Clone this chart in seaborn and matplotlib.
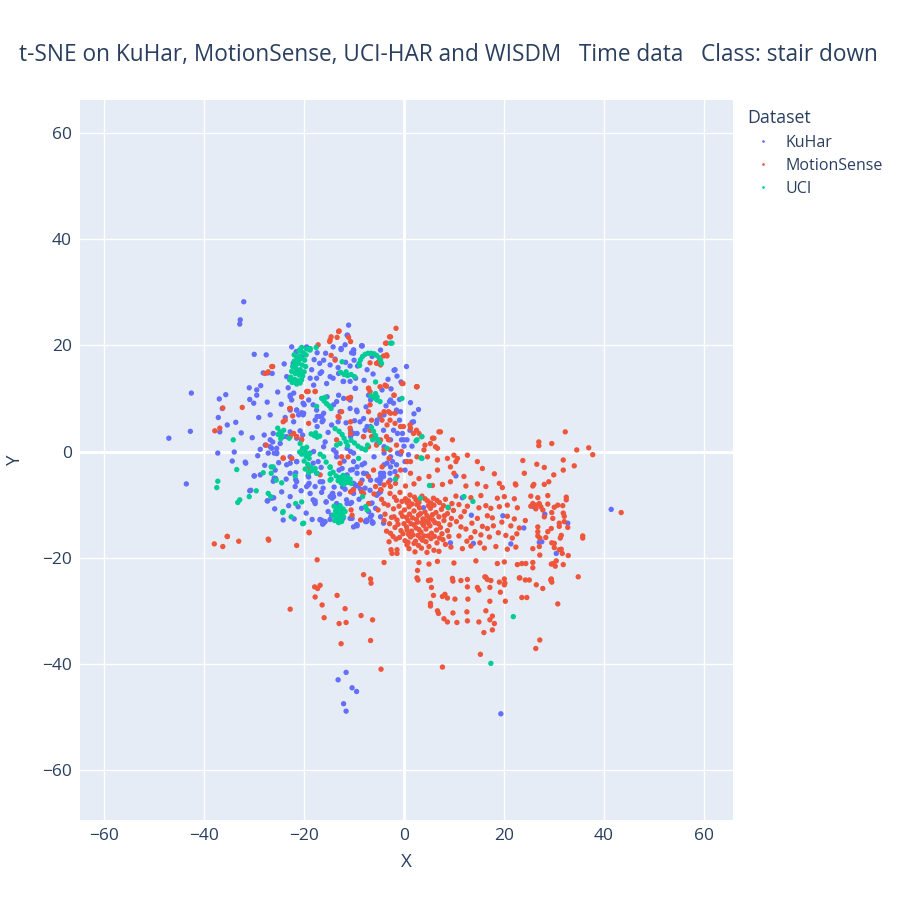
import pandas as pd
import matplotlib
matplotlib.use('Agg')
import matplotlib.pyplot as plt
import seaborn as sns

# t-SNE coordinates, one list per dataset
kuhar_pts = [
    (-47.1, 2.5), (-42.6, 11.0), (-42.8, 3.8), (-43.6, -6.1), (-32.1, 28.2), (-32.8, 24.8), (-32.9, 24.0),
    (-37.3, -0.3), (-30.0, 18.3), (-27.6, 18.2), (-28.2, 14.8), (-27.2, 14.8), (-26.4, 14.7),
    (-31.0, 12.0), (-29.5, 11.6), (-28.7, 12.4), (-29.5, 10.6), (-37.0, 9.9), (-35.7, 10.7), (-36.4, 8.1),
    (-30.9, 9.8), (-30.1, 9.1), (-37.2, 6.4), (-35.4, 5.0), (-33.7, 5.5), (-36.9, 3.7), (-34.4, -1.8),
    (-31.8, -2.0), (-34.0, -0.1), (-28.8, 0.4), (-27.8, 1.2), (-26.8, 0.9), (-26.3, 1.8), (-25.5, 0.6),
    (-27.2, -0.3), (-26.0, -0.3), (-25.5, -0.2), (-28.0, 3.1), (-24.2, 2.8), (-22.8, 3.7), (-21.5, 2.8),
    (-20.3, 3.1), (-20.8, 3.9), (-22.1, 5.6), (-20.5, 7.3), (-28.8, -4.4), (-30.0, -4.6), (-26.0, -5.0),
    (-26.2, -5.6), (-21.5, -5.7), (-21.7, -5.3), (-19.1, -4.8), (-16.3, -5.7), (-14.0, -6.7), (-14.3, -7.9),
    (-12.3, -6.7), (-11.8, -7.1), (-9.5, -6.4), (-10.2, -7.2), (-5.4, -5.4), (-4.7, -4.8), (-30.9, -7.4),
    (-27.4, -9.3), (-26.5, -8.8), (-17.8, -9.3), (-15.6, -9.5), (-14.4, -8.8), (-14.1, -8.5), (-12.4, -3.2),
    (-13.0, -3.5), (-10.3, -3.4), (-9.4, -2.9), (-8.4, -5.4), (-7.5, -4.2), (-6.7, -5.4), (-4.7, -5.3),
    (-16.4, -13.0), (-14.8, -12.8), (-16.1, -13.5), (-10.4, -12.6), (-9.4, -14.0), (-10.1, -14.2),
    (-7.4, -12.9), (-6.4, -13.2), (-4.1, -13.5), (-4.7, -12.3),
    (-20.8, 19.2), (-19.5, 19.7), (-20.4, 17.9), (-17.4, 18.6), (-16.1, 17.2), (-14.2, 19.7), (-12.6, 19.2),
    (-11.1, 23.8), (-11.3, 21.9), (-11.8, 20.1), (-10.1, 19.1), (-8.4, 19.9), (-6.4, 17.9), (-4.7, 19.1),
    (-2.0, 15.3), (-1.4, 14.2), (-10.0, 17.2), (-10.8, 16.1),
    (-18.5, 15.4), (-16.5, 15.0), (-18.8, 13.8), (-17.5, 13.8), (-18.1, 12.5), (-14.8, 14.1), (-13.1, 14.7),
    (-12.1, 13.2), (-10.8, 13.2), (-9.7, 13.8), (-9.7, 11.9), (-13.1, 10.6), (-12.1, 10.0), (-15.4, 10.3),
    (-14.1, 8.8), (-19.1, 9.7), (-22.1, 11.0), (-22.8, 10.3), (-20.0, 8.8), (-21.5, 7.8), (-21.1, 6.9),
    (-20.1, 7.2), (-17.4, 6.6), (-16.8, 6.6), (-16.1, 7.2), (-16.4, 5.6), (-17.4, 4.7), (-12.8, 7.5),
    (-9.4, 7.5), (-7.1, 10.6), (-6.7, 9.7), (-4.4, 11.6), (-2.7, 9.7), (-1.5, 7.5), (-4.0, 6.9), (-5.4, 5.9),
    (-4.8, 6.6), (-8.1, 6.2), (-7.4, 4.7), (-6.7, 4.7), (-10.1, 3.4), (-10.7, 2.8), (-8.1, 2.8), (-5.4, 1.5),
    (-4.0, 0.9), (-2.7, 2.2), (-1.3, 3.4), (0.0, 2.2), (-11.4, 0.6), (-10.7, 0.0), (-10.1, -0.3),
    (-13.5, -1.0), (-14.1, 0.3), (-16.1, 0.9), (-18.1, 0.0), (-18.8, -0.3), (-10.1, -1.9), (-10.7, -3.5),
    (-9.4, -4.1), (-4.0, -0.3), (-2.7, -1.0), (-4.0, -2.5), (-1.3, -0.3), (-4.7, -4.1),
    (-8.4, 19.9), (-10.1, 19.1), (-10.1, 18.5), (1.3, 9.2), (2.0, 7.1), (1.6, 5.5), (-0.7, 7.5),
    (-2.1, 4.0), (0.6, 2.2), (0.0, 1.0), (-0.7, -0.5), (-2.7, -2.9), (-4.1, -4.7), (-4.7, -5.1),
    (-5.4, -8.2), (-6.7, -9.8), (-6.2, -13.4), (-7.6, -13.0), (-9.4, -13.8), (-8.1, -4.1), (-8.4, -2.5),
    (-9.4, 3.4), (-10.7, 4.0),
    (-11.4, 21.9), (-8.5, 19.9), (-10.5, 18.6), (-12.6, 19.4), (-13.8, 17.4), (-14.8, 16.3), (-16.8, 14.7),
    (-14.2, 13.8), (-15.5, 12.8), (-12.2, 13.2), (-9.8, 11.9), (-10.8, 9.7), (-13.5, 9.4), (-18.2, 8.8),
    (-20.2, 9.1), (-22.5, 9.7), (-22.8, 7.8), (-20.2, 6.9), (-17.5, 7.8), (-16.5, 6.6), (-16.2, 5.9),
    (-17.8, 5.9), (-14.5, 5.0), (-13.2, 5.6), (-10.8, 8.1), (-9.5, 7.8), (-8.8, 5.6), (-7.8, 4.0),
    (-5.5, 5.3), (-6.1, 2.8), (-4.1, 4.0), (-2.1, 9.1), (-1.5, 7.8), (-2.9, 9.4), (-1.8, 15.4), (0.5, 16.0),
    (1.9, 5.6), (1.2, 4.0), (-0.5, 2.2), (-0.3, 3.4), (-1.1, -0.4), (-2.3, -1.9), (-1.5, -2.5), (0.2, -3.5),
    (-2.8, -4.1), (-4.8, -6.0), (-5.1, -7.9), (-6.8, -7.3), (-7.8, -6.9), (-9.8, -6.3), (-10.1, -7.9),
    (-11.5, -9.1), (-13.5, -9.8), (-14.5, -8.2), (-16.2, -6.9), (-16.8, -5.7), (-17.8, -6.6), (-19.5, -6.6),
    (-18.8, -7.9), (-18.2, -9.1), (-17.8, -9.8), (-15.2, -11.3), (-16.8, -12.9), (-15.8, -13.2),
    (-12.2, -12.6), (-10.8, -9.8), (-8.5, -10.7), (-6.5, -12.0), (-7.5, -13.2), (-21.5, 7.8), (-26.8, 2.2),
    (-26.2, 3.4), (-24.8, 1.5), (-23.5, 2.8), (-21.5, 2.5), (-26.5, 0.6), (-25.5, -0.4), (-22.8, -1.0),
    (-21.5, -1.9), (-23.5, -2.5), (-25.8, -3.5), (-22.8, -4.1), (-21.8, -6.6), (-22.8, -8.5), (-24.5, -7.6),
    (-21.2, -10.4), (-24.2, -12.9), (-22.8, 10.6), (-23.5, 14.1), (-22.2, 16.6), (-20.8, 19.1), (-19.2, 19.4),
    (-22.5, 19.7), (-14.5, -12.0), (-14.8, -8.5), (-17.5, -4.1), (-18.2, -2.2), (-17.2, -1.9),
    (-30.0, -4.6), (-30.7, -7.3), (-31.7, -2.2), (-27.3, -9.3), (-26.1, -8.7), (-25.7, -5.1), (-22.8, -2.2),
    (-21.7, -4.0), (-22.0, -12.7), (-19.2, -6.3), (-16.5, -7.7), (-17.9, -9.5), (-15.6, -9.5), (-14.3, -7.9),
    (-16.8, -12.8), (-16.3, -13.7), (-13.2, -13.2), (-12.5, -12.6), (-10.8, -12.6), (-9.5, -13.8),
    (-10.5, -9.6), (-11.4, -9.8), (-7.1, -11.3), (-6.7, -12.3), (-6.3, -13.5), (-5.7, -10.7), (-7.7, -13.2),
    (-5.5, -8.2), (-4.7, -7.6), (-2.8, -5.4), (-4.1, -4.1), (0.2, -1.9), (-9.2, -6.5), (-8.7, -7.1),
    (-10.1, -6.0), (-11.4, -4.4), (-10.8, -5.7), (-19.2, -4.6), (-19.0, -6.0), (-21.5, -1.9),
    (-23.8, 6.4), (-24.6, 8.9), (-25.3, 11.2), (-23.2, 12.0), (-24.0, 16.5), (-21.6, 18.8), (-18.0, 17.3),
    (-15.7, 18.5), (-16.9, 16.6), (-13.2, 15.8), (-11.7, 16.8), (-9.3, 16.1), (-7.4, 15.4), (-8.0, 13.4),
    (-6.2, 14.6), (-3.2, 13.6), (-0.6, 13.1), (-2.6, 11.8), (-0.9, 9.8), (-3.6, 8.6), (-7.6, 8.4),
    (-11.6, 5.4), (-9.9, 5.8), (-15.2, 3.6), (-15.8, 1.8), (-13.6, -0.2), (-12.0, -1.8), (-16.6, -3.0),
    (-20.6, -7.4), (-23.6, -5.2), (-25.1, -2.1), (-27.9, -2.6), (-29.3, -0.8), (-30.4, 2.6), (-32.6, 3.5),
    (-29.1, 6.4), (-26.8, 6.9), (-27.4, 9.3), (-25.9, -10.8), (-23.1, -10.2), (-19.6, -11.6), (-18.4, -12.8),
    (-12.9, -8.0), (-9.0, -9.0), (-7.9, -2.2), (-6.0, -1.0), (-3.4, -2.2), (-1.8, -3.8), (0.9, -0.6),
    (1.6, 1.0), (-0.9, 5.9), (2.9, 7.9),
    (10.4, -4.6), (13.5, -12.0), (19.8, -12.1), (24.0, -14.4), (27.6, -17.0), (30.5, -19.2), (9.3, -17.2),
    (13.9, -17.3), (21.4, -17.4), (11.7, -8.7), (32.8, -13.5), (3.9, -10.6), (-6.4, -9.7), (27.1, -17.1),
    (28.2, -11.8), (26.0, -10.4), (41.5, -10.9),
    (19.4, -49.4), (-11.6, -41.6), (-13.2, -43.0), (-10.4, -44.5), (-9.5, -45.2), (-12.1, -47.5),
    (-11.6, -48.9),
]

motionsense_pts = [
    (43.5, -11.5), (37.8, -0.6), (37.0, 0.7), (34.6, 0.3), (32.3, 3.7), (29.6, 1.5), (27.0, 1.8), (27.0, 1.1),
    (34.1, -2.7), (31.9, -1.6), (30.0, -4.4), (29.0, -5.7), (31.9, -3.5), (28.1, -3.0), (26.6, -2.4),
    (26.0, -6.2), (24.1, -4.1), (23.8, -1.7), (22.3, -6.1),
    (-38.0, -17.4), (-36.3, -17.9), (-35.4, -16.0), (-33.1, -16.9), (-27.1, -16.7), (-21.5, -17.7),
    (-19.0, -15.3), (-17.4, -20.4), (-17.9, -25.5), (-16.8, -25.2), (-17.3, -25.8), (-17.8, -27.4),
    (-16.4, -28.9), (-16.0, -31.3), (-22.8, -29.7), (-13.4, -27.1), (-11.8, -29.6), (-13.0, -32.4),
    (-11.6, -32.2), (-12.6, -36.2), (-8.6, -30.9), (-6.3, -31.7), (-6.7, -35.6), (-8.1, -23.2), (-6.6, -24.8),
    (-4.6, -41.0), (-4.0, -20.9), (-2.6, -18.5), (-1.4, -19.2), (-1.6, -16.5), (0.8, -17.1),
    (7.7, -40.6), (15.3, -38.2), (26.4, -37.1), (27.2, -35.5),
    (2.7, -22.4), (2.8, -24.2), (5.3, -28.6), (5.3, -29.1), (5.9, -27.1), (6.7, -30.0), (6.9, -30.5),
    (4.9, -24.3), (5.5, -25.6), (7.7, -27.3), (8.2, -26.9), (8.7, -27.6), (8.0, -31.5), (8.7, -32.1),
    (9.8, -30.4), (10.2, -27.8), (10.6, -32.2), (9.8, -24.4), (11.4, -24.3), (12.7, -25.5), (12.8, -27.8),
    (12.6, -30.2), (12.7, -31.9), (15.0, -32.1), (14.7, -25.6), (15.0, -26.1), (17.2, -28.2), (16.4, -30.0),
    (17.2, -31.7), (17.7, -31.0), (18.1, -32.4), (16.0, -34.1), (17.7, -33.6), (16.2, -23.6), (16.7, -24.1),
    (17.2, -25.6), (19.1, -24.6), (20.1, -25.1), (20.2, -24.8), (19.3, -26.5), (20.3, -28.2), (23.2, -23.8),
    (24.3, -24.2), (23.6, -27.5), (24.6, -27.5), (25.8, -21.9), (26.5, -25.1), (27.8, -25.8), (29.4, -24.2),
    (29.6, -24.6), (30.8, -28.7), (34.9, -23.6), (29.9, -21.1), (30.3, -21.6), (31.9, -21.3), (30.1, -17.3),
    (31.5, -18.4), (31.7, -19.2), (32.9, -19.6), (35.8, -15.9), (35.8, -16.3), (31.3, -16.3), (29.6, -17.2),
    (28.8, -15.1), (26.8, -15.1), (27.2, -16.3), (27.2, -19.5), (23.6, -21.1), (24.4, -21.1),
    (25.8, -9.8), (26.4, -10.1), (27.1, -9.8), (27.8, -11.0), (28.8, -9.9), (29.6, -11.5), (30.8, -10.1),
    (31.9, -11.6), (32.5, -9.1), (31.1, -13.5), (32.1, -13.2),
    (-13.0, 22.7), (-13.4, 21.5), (-14.8, 21.0), (-11.1, 21.5), (-10.7, 20.7), (-17.2, 20.1), (-14.6, 18.1),
    (-13.8, 17.2), (-2.7, 21.6), (-1.6, 23.2), (-3.7, 20.4), (-3.4, 18.0), (-4.7, 16.3), (-26.3, 16.0),
    (-27.8, 14.7), (-27.2, 15.0), (-36.3, 8.2), (-32.4, 8.3), (-37.9, 3.9), (-36.9, 4.4), (-22.9, 8.1),
    (-22.3, 6.7), (-20.5, 10.3), (-19.5, 11.3), (-17.8, 11.3), (-21.5, 2.8), (-20.5, 2.3), (-27.6, 1.2),
    (-24.2, 5.6), (-23.8, 5.9), (-10.7, 10.2), (-13.0, 6.4), (-10.7, 5.6), (-7.1, 11.9), (-3.5, 12.3),
    (-2.0, 10.6), (-0.2, 12.8), (2.6, 12.2), (7.3, 3.7), (6.0, 2.5), (5.3, 1.5), (6.7, 0.6), (0.6, -1.9),
    (-10.7, 3.4), (-13.5, 2.2), (-16.8, -4.4), (-19.1, 5.3), (-22.8, 2.8), (-22.1, 3.4), (-19.1, -3.0),
    (-24.2, -1.2), (-22.5, -1.3), (-8.7, -6.0), (-10.7, -7.6), (-8.1, -7.9), (-8.7, -12.9), (-10.6, -11.0),
    (-10.4, -12.0), (-7.1, -9.8), (-19.0, -15.2), (-35.4, -16.0), (-27.2, -16.5),
    (-2.0, 10.6), (-4.0, 7.5), (-2.7, 7.2), (-4.4, 5.9), (-3.4, 5.0), (-0.7, 4.7), (1.3, 4.4), (3.0, 3.4),
    (5.7, 2.5), (7.0, 3.7), (9.7, 2.2), (6.3, 0.9), (4.0, 0.3), (2.6, -1.0), (1.3, -1.9), (4.7, -1.0),
    (6.7, -1.6), (8.7, -1.3), (10.0, -0.7), (10.7, -1.3), (12.7, -0.7), (9.3, -2.9), (10.4, -1.9), (6.7, -3.5),
    (5.0, -4.7), (3.0, -5.1), (1.3, -4.1), (-0.7, -3.5), (-1.4, -4.7), (10.0, -4.1), (9.3, -5.7), (12.0, -4.7),
    (14.7, -1.9), (15.7, -3.2), (18.1, -4.2), (-0.4, 12.8), (2.6, 12.2),
    (-4.7, 2.2), (-6.7, 4.0), (-8.1, 2.8), (-7.1, 0.9), (-4.0, 0.3), (-3.0, -1.3), (-4.4, -2.9), (-6.1, -3.5),
    (-7.1, -4.7), (-5.7, -6.6), (-8.7, -6.0), (-10.1, -7.2), (-4.7, -7.2), (-2.7, -6.6), (-4.0, -9.8),
    (-2.0, -12.3), (-2.7, -15.4), (0.6, -14.8), (2.0, -17.3), (-1.4, -18.5), (-2.4, -19.2),
    (-13.1, 22.6), (-14.6, 21.6), (-14.9, 20.7), (-2.9, 21.6), (-3.5, 20.4), (-4.1, 18.0), (-3.5, 18.2),
    (-6.8, 16.7), (-5.5, 16.6), (-5.1, 16.9), (-7.1, 11.9), (-6.8, 11.3), (-4.8, 12.2), (-3.8, 12.5),
    (2.5, 12.2), (-11.2, 10.0), (-13.2, 6.6), (-12.5, 7.5), (-10.8, 4.4), (-19.2, 11.3), (-17.8, 11.3),
    (-22.8, 8.1), (-26.5, 16.0), (-20.5, 10.3), (-6.8, 8.8), (-7.1, 7.5), (-6.5, 5.9), (-4.8, 6.9),
    (-3.1, 7.5), (-1.8, 7.2), (-2.8, 5.9), (-1.8, 5.3), (-6.8, 4.0), (-6.5, 2.8), (-5.5, 1.2), (-3.5, 2.8),
    (-3.1, 2.2), (-2.8, 0.3), (-1.5, 1.2), (-0.5, 0.0), (-0.1, 4.7), (1.2, 5.0), (1.9, 3.4), (2.5, 4.0),
    (3.5, 2.8), (4.2, 1.2), (-24.2, -1.3), (-22.5, -1.3), (-20.5, 2.2), (-11.2, -1.0), (-12.8, -2.2),
    (-12.5, -1.0), (-8.5, -7.6),
    # dense core
    (-2.8, -7.9), (-1.9, -8.6), (-0.8, -7.7), (0.3, -8.9), (1.2, -8.2), (2.4, -9.1), (3.6, -8.4), (4.7, -9.3),
    (5.9, -8.8), (7.1, -9.6), (8.3, -9.0), (9.6, -9.8), (-3.2, -10.1), (-2.1, -10.8), (-1.0, -10.3),
    (0.1, -11.0), (1.0, -10.4), (2.0, -11.2), (3.1, -10.6), (4.2, -11.4), (5.3, -10.7), (6.4, -11.5),
    (7.5, -10.9), (8.7, -11.7), (9.9, -11.1), (-2.5, -12.4), (-1.4, -12.9), (-0.3, -12.2), (0.8, -13.0),
    (1.7, -12.5), (2.7, -13.3), (3.8, -12.7), (4.9, -13.5), (5.8, -12.9), (6.9, -13.6), (8.0, -13.0),
    (9.2, -13.8), (-1.8, -14.3), (-0.6, -14.9), (0.5, -14.2), (1.5, -15.0), (2.4, -14.4), (3.4, -15.2),
    (4.4, -14.6), (5.5, -15.4), (6.5, -14.8), (7.6, -15.5), (8.7, -14.9), (-0.9, -16.2), (0.2, -16.8),
    (1.3, -16.1), (2.3, -16.9), (3.3, -16.3), (4.4, -17.0), (5.4, -16.4), (6.6, -17.2), (7.8, -16.6),
    (1.0, -18.3), (2.2, -18.9), (3.5, -18.2), (4.6, -19.0), (6.0, -18.6), (0.6, -9.6), (1.6, -9.9),
    (2.9, -12.0), (3.9, -13.9), (4.6, -12.1), (5.2, -14.0), (2.0, -13.8), (3.0, -14.7), (4.0, -15.9),
    (1.1, -11.8), (6.0, -10.1), (7.0, -12.3), (2.6, -10.0), (3.3, -11.7), (4.9, -10.2), (5.7, -11.9),
    (1.8, -15.7), (3.7, -16.7), (0.0, -13.6), (-0.4, -9.4), (-4.5, -9.0), (-5.2, -11.0), (-4.0, -13.0),
    (-3.5, -15.0), (-3.0, -17.0), (-6.0, -8.0),
    (-1.5, -9.2), (0.9, -9.3), (2.1, -8.6), (3.0, -9.6), (4.2, -8.9), (5.4, -9.7), (6.6, -9.2), (7.9, -10.2),
    (8.9, -10.6), (-0.6, -11.6), (0.5, -12.4), (1.4, -13.6), (2.5, -12.8), (3.6, -13.4), (4.3, -13.1),
    (5.1, -12.6), (6.2, -13.4), (7.3, -14.3), (8.1, -12.1), (9.5, -12.6), (-1.2, -13.7), (-0.2, -15.5),
    (0.9, -15.6), (2.8, -15.8), (4.8, -15.9), (6.1, -16.0), (7.1, -16.3), (8.3, -17.5), (0.6, -17.6),
    (2.9, -17.7), (5.0, -17.9), (7.0, -18.8), (9.0, -16.0), (10.5, -13.2), (11.0, -10.0), (12.1, -11.3),
    (13.6, -13.5), (14.2, -15.1), (12.6, -16.9), (15.2, -17.2), (17.9, -14.0), (18.9, -15.3), (19.6, -13.3),
    (22.6, -15.5), (24.3, -13.0), (-3.8, -11.8), (-2.9, -13.6), (-2.2, -16.0), (-4.6, -7.2), (-3.1, -5.8),
    # band to the right
    (-4.0, -6.3), (-1.7, -6.0), (0.3, -6.5), (2.0, -6.1), (5.7, -6.4), (7.7, -6.2), (12.4, -6.5), (14.7, -6.1),
    (16.4, -6.6), (19.1, -6.0), (19.7, -6.8), (22.4, -6.3), (25.8, -6.5), (28.1, -6.2),
    (10.4, -8.4), (13.4, -8.7), (15.4, -8.3), (18.7, -8.8), (20.1, -8.5), (22.1, -8.9), (25.4, -8.4),
    (26.8, -8.7), (28.8, -8.3), (32.5, -8.6),
    (12.7, -10.3), (15.0, -10.6), (16.4, -10.2), (17.4, -10.7), (19.1, -10.4), (20.7, -10.1), (22.7, -10.6),
    (25.4, -10.3), (26.4, -10.8), (27.4, -10.4), (30.1, -10.5), (31.8, -10.2),
    (11.4, -12.3), (14.7, -12.6), (16.7, -12.1), (17.7, -12.5), (20.7, -12.2), (22.1, -12.7), (28.1, -12.3),
    (29.8, -12.6), (32.1, -12.2),
    (11.4, -14.2), (12.4, -14.6), (15.7, -14.1), (16.7, -14.5), (21.4, -14.0), (23.1, -14.4), (26.8, -14.2),
    (29.5, -14.5), (31.1, -14.1), (32.8, -14.3),
    (11.0, -15.9), (13.4, -16.2), (15.4, -15.7), (17.1, -16.1), (20.4, -15.8), (21.7, -16.3), (26.8, -15.9),
    (28.4, -16.2), (31.5, -15.8),
    (9.4, -18.0), (11.7, -18.3), (13.4, -17.8), (16.1, -18.2), (18.4, -17.9), (20.7, -18.4), (22.4, -18.0),
    (25.8, -18.3), (27.1, -17.9), (30.1, -18.1), (31.1, -18.5),
    (3.0, -20.9), (5.0, -21.2), (6.7, -20.7), (10.0, -21.0), (14.4, -20.6), (18.7, -21.1), (20.1, -20.8),
    (22.7, -21.3), (25.8, -20.9), (29.5, -21.2), (30.5, -20.6),
    (-6.7, -24.0), (2.6, -23.8), (5.3, -24.2), (9.7, -23.9), (12.7, -24.1), (16.4, -23.7), (17.4, -24.3),
    (20.1, -24.0), (23.1, -23.8), (25.1, -24.2), (29.5, -24.0),
]

uci_pts = [
    # large clump upper left
    (-21.0, 19.0), (-20.2, 18.6), (-19.6, 18.2), (-21.5, 17.8), (-20.6, 17.5), (-19.9, 17.2), (-22.0, 17.0),
    (-21.2, 16.6), (-20.4, 16.3), (-19.7, 16.0), (-22.3, 16.0), (-21.6, 15.6), (-20.8, 15.4), (-20.0, 15.0),
    (-22.5, 15.1), (-21.8, 14.7), (-21.0, 14.4), (-20.3, 14.2), (-22.7, 14.0), (-21.9, 13.6), (-21.2, 13.3),
    (-20.5, 13.5), (-22.4, 13.0), (-21.5, 12.7), (-20.8, 12.9), (-22.0, 18.2), (-20.9, 18.0), (-21.7, 16.2),
    (-20.6, 14.8), (-21.4, 15.1), (-22.9, 13.5), (-21.1, 17.1), (-19.5, 19.3), (-20.5, 19.6), (-18.8, 19.1),
    (-17.6, 19.6),
    # clump near x=-20, y=0
    (-20.8, 1.5), (-20.3, 0.6), (-19.8, 0.0), (-20.5, -0.5), (-19.6, -0.9), (-19.0, -1.3), (-20.0, -1.8),
    (-19.3, -2.4), (-18.7, -2.9), (-19.8, -3.3), (-18.4, -3.6), (-19.1, -4.0), (-20.9, -0.1), (-19.5, 0.8),
    (-18.9, -0.4), (-17.8, -3.2), (-17.4, -4.1),
    # clump near x=-13, y=-12
    (-14.0, -10.3), (-13.4, -10.6), (-12.8, -10.2), (-12.2, -10.8), (-13.7, -11.2), (-13.0, -11.5),
    (-12.4, -11.8), (-11.8, -11.3), (-14.2, -12.0), (-13.5, -12.4), (-12.8, -12.7), (-12.1, -12.3),
    (-13.9, -13.0), (-13.1, -13.4), (-12.5, -13.2), (-13.3, -11.9), (-12.6, -11.1),
    # clump near x=-12, y=-5
    (-13.6, -4.6), (-13.0, -4.9), (-12.4, -5.2), (-11.8, -5.5), (-11.2, -5.8), (-10.6, -6.0), (-13.2, -5.5),
    (-12.6, -5.9), (-12.0, -6.2), (-11.4, -4.8), (-10.8, -5.2), (-12.2, -4.5), (-14.2, -3.9), (-14.8, -3.0),
    (-14.6, -5.2),
    # arc near x=-7, y=18
    (-9.0, 16.6), (-8.7, 17.3), (-8.3, 17.9), (-7.8, 18.3), (-7.2, 18.5), (-6.6, 18.5), (-6.0, 18.4),
    (-5.5, 18.1), (-5.0, 17.7), (-4.7, 17.2), (-4.5, 16.6), (-8.9, 16.2),
    # small strands
    (-13.8, 4.3), (-13.0, 3.8), (-12.4, 3.2), (-12.0, 2.5), (-11.6, 1.8), (-11.3, 1.1), (-12.8, 1.5),
    (-13.5, 1.2), (-16.5, 10.0), (-16.0, 9.5), (-15.5, 9.0), (-15.0, 8.6), (-14.6, 8.1), (-15.8, 10.2),
    (-18.6, 3.3), (-18.0, 3.0), (-17.4, 2.7), (-16.9, 2.9), (-17.7, 3.5), (-25.3, 4.4), (-24.8, 3.7),
    (-24.4, 3.0), (-24.7, 2.4), (-25.2, 3.2), (-24.1, 4.0), (-12.7, 14.9), (-12.0, 14.5), (-11.3, 14.3),
    (-10.6, 14.5), (-9.9, 14.1), (-11.6, 15.0), (-6.6, 10.5), (-6.0, 10.1), (-5.4, 9.7), (-4.8, 9.4),
    (-5.7, 10.9), (-6.5, 4.5), (-6.1, 3.8), (-5.7, 3.0), (-5.3, 2.3), (-4.9, 1.7), (-6.3, 2.2), (-10.6, 2.1),
    (-9.9, 1.6), (-9.2, 1.0), (-8.5, 0.6), (-7.8, 0.4), (-7.3, 1.2),
    # scattered
    (-33.5, -3.4), (-37.3, -5.6), (-37.5, -6.8), (-33.3, -9.6), (-32.9, -9.1), (-31.0, -8.5), (-29.6, -7.4),
    (-27.2, -7.9), (-26.7, -8.5), (-28.2, -4.0), (-26.6, -2.9), (-26.6, -4.1), (-25.6, -5.4), (-24.5, -5.9),
    (-24.3, -11.5), (-22.6, -12.3), (-21.7, -9.8), (-20.5, -9.5), (-20.3, -13.6), (-21.8, -4.6),
    (-14.8, -2.9), (-14.8, -4.2), (-14.8, -5.4), (-7.7, -10.4), (-8.3, -8.5), (-7.4, -11.0), (-34.2, 2.2),
    (-2.7, 20.4), (-12.4, 16.9), (-0.4, 10.0), (-5.7, 13.1), (3.6, 2.8), (2.6, 2.2), (3.6, -1.3),
    (-3.4, 0.6), (-7.7, 0.3), (-9.1, -1.3), (-16.1, -1.0), (-26.2, -2.9), (-24.2, -11.3), (-20.1, -13.5),
    (-5.4, 10.3), (-18.8, 19.4), (-2.4, 20.4), (-1.7, -5.2), (5.1, -6.4), (3.3, -8.8), (8.8, -10.5),
    (12.0, -8.5), (13.8, -9.4), (3.4, -1.2), (2.4, 2.0), (21.9, -31.1), (17.4, -39.9), (-16.8, -0.5),
    (-15.6, -2.0), (-17.5, 8.5), (-23.0, 2.5),
]

datasets = ['KuHar', 'MotionSense', 'UCI']
colors = ['#636EFA', '#EF553B', '#00CC96']

# build one long table in drawing order (KuHar under MotionSense under UCI)
rows = []
for name, pts in zip(datasets, [kuhar_pts, motionsense_pts, uci_pts]):
    for x, y in pts:
        rows.append({'X': x, 'Y': y, 'Dataset': name})
df = pd.DataFrame(rows)

sns.set_style('darkgrid', {'axes.facecolor': '#E5ECF6', 'grid.color': 'white'})
plt.rcParams['font.family'] = ['Open Sans', 'DejaVu Sans']
text_color = '#2a3f5f'

fig = plt.figure(figsize=(9, 9), dpi=100)
ax = fig.add_axes([80 / 900, 80 / 900, 653 / 900, 720 / 900])

ax.axhline(0, color='white', lw=2, zorder=0.6)
ax.axvline(0, color='white', lw=2, zorder=0.6)
sns.scatterplot(data=df, x='X', y='Y', hue='Dataset', hue_order=datasets,
                palette=dict(zip(datasets, colors)), s=15, linewidth=0, ax=ax, zorder=3)

ax.set_xlim(-64.9, 65.9)
ax.set_ylim(-69.4, 66.2)
ax.set_xticks(range(-60, 61, 20))
ax.set_yticks(range(-60, 61, 20))
ax.grid(True, color='white', lw=1)
ax.tick_params(length=0, labelsize=12.5, labelcolor=text_color, pad=6)
for s in ax.spines.values():
    s.set_visible(False)
ax.set_xlabel('')
ax.set_ylabel('')

fig.text(406 / 900, 1 - 862 / 900, 'X', ha='center', va='center', fontsize=13.5, color=text_color)
fig.text(15 / 900, 1 - 460 / 900, 'Y', ha='center', va='center', rotation=90, fontsize=13.5, color=text_color)
fig.text(19 / 900, 1 - 61 / 900, 't-SNE on KuHar, MotionSense, UCI-HAR and WISDM   Time data   Class: stair down',
         ha='left', va='baseline', fontsize=16.3, color=text_color)

sns.move_legend(ax, 'upper left', bbox_to_anchor=(733 / 900, 1 - 95 / 900), bbox_transform=fig.transFigure,
                frameon=False, title='Dataset', fontsize=11.5, title_fontsize=12.8, markerscale=0.5,
                labelspacing=0.45, handletextpad=0.4, alignment='left')
leg = ax.get_legend()
leg.get_title().set_color(text_color)
for t in leg.get_texts():
    t.set_color(text_color)

fig.savefig('out.png', dpi=100)
